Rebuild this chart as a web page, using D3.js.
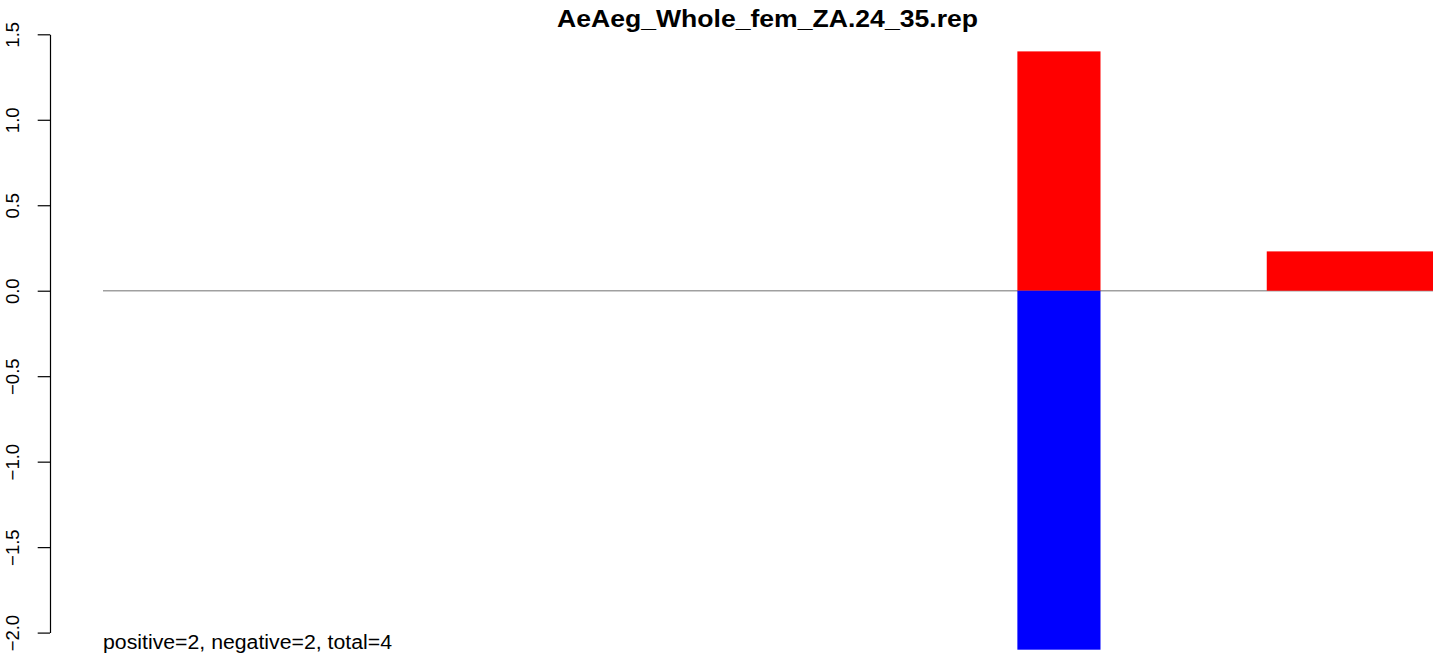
<!DOCTYPE html>
<html>
<head>
<meta charset="utf-8">
<script src="https://cdn.jsdelivr.net/npm/d3@7"></script>
<style>
  body { margin: 0; background: #fff; }
  text { font-family: "Liberation Sans", Arial, Helvetica, sans-serif; }
</style>
</head>
<body>
<script>
// chart values
const title = "AeAeg_Whole_fem_ZA.24_35.rep"
const footer = "positive=2, negative=2, total=4"
const yTicks = [-2.0, -1.5, -1.0, -0.5, 0.0, 0.5, 1.0, 1.5]
const binCount = 16

// bars: start bin, end bin, value
const posStart = [11, 14]
const posEnd = [12, 16]
const posValues = [1.4, 0.23]
const negStart = [11]
const negEnd = [12]
const negValues = [-2.1]

const width = 1444, height = 655

const svg = d3.select("body")
  .append("svg")
  .attr("width", width)
  .attr("height", height)

const x = d3.scaleLinear()
  .domain([0, binCount])
  .range([103, 1433])

const y = d3.scaleLinear()
  .domain([-2, 1.5])
  .range([632.6, 34.3])

const posBars = posValues.map((v, i) => ({start: posStart[i], end: posEnd[i], value: v}))
const negBars = negValues.map((v, i) => ({start: negStart[i], end: negEnd[i], value: v}))

/* zero line */
svg.append("line")
  .attr("x1", x(0))
  .attr("x2", x(binCount))
  .attr("y1", y(0))
  .attr("y2", y(0))
  .attr("stroke", "#a0a0a0")
  .attr("stroke-width", 1.5)

svg.selectAll("rect.pos")
  .data(posBars)
  .enter().append("rect")
  .attr("class", "pos")
  .attr("x", d => x(d.start))
  .attr("width", d => x(d.end) - x(d.start))
  .attr("y", d => y(d.value))
  .attr("height", d => y(0) - y(d.value))
  .attr("fill", "#ff0000")

svg.selectAll("rect.neg")
  .data(negBars)
  .enter().append("rect")
  .attr("class", "neg")
  .attr("x", d => x(d.start))
  .attr("width", d => x(d.end) - x(d.start))
  .attr("y", y(0))
  .attr("height", d => y(d.value) - y(0))
  .attr("fill", "#0000ff")

/* y axis, R style with rotated labels */
const yaxis = d3.axisLeft(y)
  .tickValues(yTicks)
  .tickFormat(d3.format(".1f"))
  .tickSize(12.3)
  .tickSizeOuter(0)

const gy = svg.append("g")
  .attr("transform", "translate(50,0)")
  .call(yaxis)

gy.select(".domain").attr("stroke", "#000").attr("stroke-width", 1.2)
gy.selectAll(".tick line").attr("stroke", "#000").attr("stroke-width", 1.2)
gy.selectAll(".tick text")
  .attr("transform", "rotate(-90)")
  .attr("x", 0)
  .attr("y", -31)
  .attr("dy", 0)
  .attr("text-anchor", "middle")
  .attr("font-size", 18.5)
  .attr("font-family", "Liberation Sans, Arial, sans-serif")
  .attr("fill", "#000")

svg.append("text")
  .attr("x", 557)
  .attr("y", 26.7)
  .attr("font-size", 23.5)
  .attr("font-weight", "bold")
  .attr("textLength", 421)
  .attr("lengthAdjust", "spacingAndGlyphs")
  .text(title)

svg.append("text")
  .attr("x", 103)
  .attr("y", 649)
  .attr("font-size", 19.5)
  .attr("textLength", 289)
  .attr("lengthAdjust", "spacingAndGlyphs")
  .text(footer)
</script>
</body>
</html>
